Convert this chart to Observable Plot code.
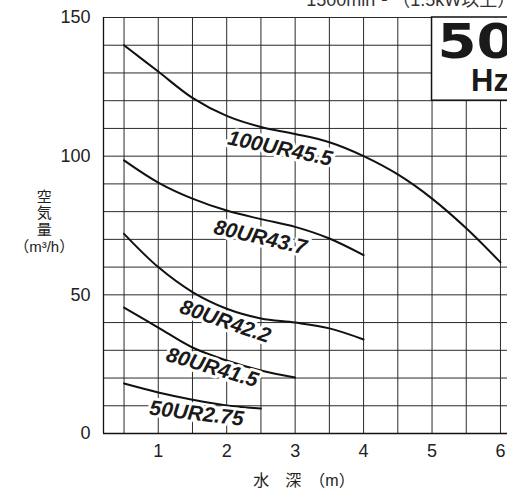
<!DOCTYPE html>
<html><head><meta charset="utf-8">
<script src="https://cdn.jsdelivr.net/npm/d3@7"></script>
<script src="https://cdn.jsdelivr.net/npm/@observablehq/plot@0.6"></script>
<style>
html,body{margin:0;padding:0;background:#fff;overflow:hidden;width:507px;height:491px}
#chart{position:relative;width:560px;height:491px}
</style></head><body><div id="chart"></div>
<script>
// ---- data ----
const models = ["100UR45.5", "80UR43.7", "80UR42.2", "80UR41.5", "50UR2.75"];
const depth100UR455 = [0.5, 1.0, 1.5, 2.0, 2.5, 3.0, 3.5, 4.0, 4.5, 5.0, 5.5, 6.0];
const air100UR455   = [140, 130.5, 121, 114.5, 110.5, 108, 105, 100, 93.4, 84.7, 74, 61.7];
const depth80UR437  = [0.5, 1.0, 1.5, 2.0, 2.5, 3.0, 3.5, 4.0];
const air80UR437    = [98.5, 90.5, 84.7, 80.4, 77.3, 74.5, 70.3, 64.3];
const depth80UR422  = [0.5, 1.0, 1.5, 2.0, 2.5, 3.0, 3.5, 4.0];
const air80UR422    = [72, 60, 51, 45, 41.5, 40, 37.9, 33.9];
const depth80UR415  = [0.5, 1.0, 1.5, 2.0, 2.5, 3.0];
const air80UR415    = [45.4, 38.2, 31, 26.3, 22.7, 20.2];
const depth50UR275  = [0.5, 1.0, 1.5, 2.0, 2.5];
const air50UR275    = [18, 14.8, 12.2, 10.1, 9];

// curve label anchors (data units) and angles
const labelDepth = [2.78, 2.49, 1.98, 1.79, 1.56];
const labelAir   = [102.8, 70.7, 40.4, 23.8, 7.2];
const labelAngle = [11.7, 12.8, 18.9, 16.6, 6.8];

const xTicks = [1, 2, 3, 4, 5, 6];
const yTicks = [0, 50, 100, 150];
const gridX = [0.5, 1, 1.5, 2, 2.5, 3, 3.5, 4, 4.5, 5, 5.5, 6, 6.5];
const gridY = [0, 10, 20, 30, 40, 50, 60, 70, 80, 90, 100, 110, 120, 130, 140, 150];

const xTitle = "水　深　（m）";
const yTitle = "空\n気\n量\n（m³/h）";
const topNote = "1500min⁻¹ （1.5kW以上）";
const freqBig = "50";
const freqUnit = "Hz";

// ---- build tables ----
const depthSets = [depth100UR455, depth80UR437, depth80UR422, depth80UR415, depth50UR275];
const airSets = [air100UR455, air80UR437, air80UR422, air80UR415, air50UR275];
const rows = models.flatMap((m, i) => depthSets[i].map((d, j) => ({name: m, depth: d, air: airSets[i][j]})));
const labels = models.map((m, i) => ({name: m, x: labelDepth[i], y: labelAir[i], a: labelAngle[i]}));

const FONT = "'Liberation Sans', Arial, 'Noto Sans CJK JP', sans-serif";
const gridColor = "#2a2a2a";

const chart = Plot.plot({
  width: 560, height: 491,
  marginLeft: 103, marginRight: 25.8, marginTop: 17, marginBottom: 58,
  x: {domain: [0.2, 6.5], axis: null},
  y: {domain: [0, 150], axis: null},
  style: {fontFamily: FONT, background: "white", color: "#222"},
  marks: [
    Plot.ruleX(gridX, {y1: 0, y2: 150, stroke: gridColor, strokeWidth: 1}),
    Plot.ruleY(gridY, {x1: 0.2, x2: 6.5, stroke: gridColor, strokeWidth: 1}),
    Plot.ruleX([0.2], {y1: 0, y2: 150, stroke: "#111", strokeWidth: 1.3}),
    Plot.ruleY([0], {x1: 0.2, x2: 6.5, stroke: "#111", strokeWidth: 1.3}),
    Plot.axisX(xTicks, {tickSize: 0, tickPadding: 11, label: null, fontSize: 18, fill: "#222"}),
    Plot.axisY(yTicks, {tickSize: 0, tickPadding: 13, label: null, fontSize: 18, fill: "#222"}),
    // 50 Hz box
    Plot.rect([{x1: 5, x2: 6.8, y1: 120, y2: 150}], {x1: "x1", x2: "x2", y1: "y1", y2: "y2", fill: "white", stroke: "#111", strokeWidth: 1.5}),
    Plot.text([freqBig], {x: 5.08, y: 141, text: d => d, textAnchor: "start", fontSize: 48, fontWeight: "bold", fontFamily: "'DejaVu Sans', sans-serif", fill: "#1a1a1a"}),
    Plot.text([freqUnit], {x: 5.57, y: 126.9, text: d => d, textAnchor: "start", fontSize: 31, fontWeight: "bold", fill: "#1a1a1a"}),
    // curves
    Plot.line(rows, {x: "depth", y: "air", z: "name", stroke: "#111", strokeWidth: 2, curve: "catmull-rom"}),
    // labels
    Plot.text(labels, {x: "x", y: "y", text: "name", rotate: "a", fontSize: 21, fontWeight: "bold", fontStyle: "italic",
      fill: "#1a1a1a", stroke: "white", strokeWidth: 6}),
    // titles
    Plot.text([yTitle], {x: -0.667, y: 76.5, text: d => d, fontSize: 15, lineHeight: 1.12, fill: "#222"}),
    Plot.text([xTitle], {x: 3.13, y: -17, text: d => d, fontSize: 16, fill: "#222"}),
    Plot.text([topNote], {x: 3.163, y: 154.3, text: d => d, textAnchor: "start", lineAnchor: "bottom", fontSize: 18, fill: "#333"})
  ]
});
document.getElementById("chart").appendChild(chart);

// widen the heavy "50" badge glyphs horizontally, as in the reference
const ax = 103 + (5.08 - 0.2) * (560 - 25.8 - 103) / 6.3;
d3.select(chart).selectAll("text")
  .filter(function () {
    return this.textContent === freqBig && this.closest("g[font-size='48']") !== null;
  })
  .attr("transform", function () {
    const t = this.getAttribute("transform") || "";
    return `translate(${ax},0) scale(1.17,1) translate(${-ax},0) ${t}`;
  });
</script>
</body></html>
